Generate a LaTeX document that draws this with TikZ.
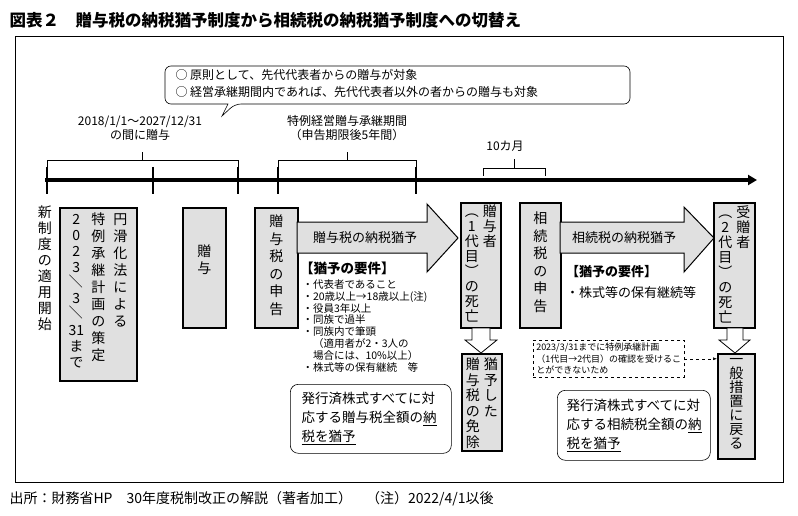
\documentclass[tikz,border=0pt]{standalone}
\usepackage{fontspec}
\setmainfont{Noto Sans CJK JP}
\usetikzlibrary{shapes.arrows, arrows.meta, positioning}
\definecolor{boxgray}{gray}{0.88}

\ExplSyntaxOn
\tl_new:N \l_tate_tl
\NewDocumentCommand\tate{O{17pt}m}{
  \tl_clear:N \l_tate_tl
  \tl_map_inline:nn {#2} { \tl_put_right:Nn \l_tate_tl {\hbox to 15pt{\hss##1\hss}} }
  \vtop{\baselineskip=#1\lineskiplimit=-\maxdimen\lineskip=0pt\l_tate_tl}
}
\ExplSyntaxOff
\newcommand{\tatecols}[1]{\hbox{#1}}
\newcommand{\tsep}{\hspace{3pt}}
\newcommand{\tslash}{\rotatebox{90}{／}}

\tikzset{
  grbox/.style={draw, line width=1.6pt, fill=boxgray, inner sep=0pt, anchor=north west},
  tatefont/.style={font=\fontsize{14}{17}\selectfont, inner sep=0pt, anchor=north},
  txtlbl/.style={font=\fontsize{12}{14}\selectfont, align=center},
  reqtxt/.style={font=\fontsize{10.5}{11.8}\selectfont, align=left, anchor=north west, inner sep=0pt},
  roundbox/.style={draw, rounded corners=8pt, anchor=north west, inner sep=0pt, line width=0.6pt},
  bigarrow/.style={draw, line width=1pt, fill=boxgray},
  hollowdown/.style={draw, line width=0.8pt, fill=white},
  brace/.style={line width=0.6pt},
}

\begin{document}
\begin{tikzpicture}[x=1pt, y=-1pt, font=\fontsize{13}{16}\selectfont]
\useasboundingbox (0,0) rectangle (798,516);
% title and frame
\node (title) [anchor=west, font=\fontsize{16.5}{18}\selectfont\bfseries] at (6,20) {図表２　贈与税の納税猶予制度から相続税の納税猶予制度への切替え};
\draw[line width=0.6pt] (15,36) rectangle (783,482);
\node (source) [anchor=west, font=\fontsize{14}{16}\selectfont] at (6,499) {出所：財務省HP　30年度税制改正の解説（著者加工）　（注）2022/4/1以後};
% callout
\draw[line width=0.6pt, rounded corners=6pt] (165,66) -- (630,66) -- (630,104) -- (235,104) [sharp corners]-- (222,116) -- (228,104) [rounded corners=6pt]-- (165,104) -- cycle;
\node (rule) [anchor=north west, align=left, font=\fontsize{12}{17}\selectfont] at (172,66) {○ 原則として、先代代表者からの贈与が対象\\○ 経営承継期間内であれば、先代代表者以外の者からの贈与も対象};
% periods
\node (period1) [txtlbl] at (140,128) {2018/1/1～2027/12/31\\の間に贈与};
\node (period2) [txtlbl] at (347,128) {特例経営贈与承継期間\\（申告期限後5年間）};
\node (month) [txtlbl] at (505,146) {10カ月};
\draw[brace] (47,168) -- (47,160) -- (238,160) -- (238,168) (142,160) -- (142,152);
\draw[brace] (278,168) -- (278,160) -- (416,160) -- (416,168) (347,160) -- (347,152);
\draw[brace] (483,176) -- (483,168) -- (545,168) -- (545,176) (514,168) -- (514,159);
% timeline
\draw[line width=3.5pt, -{Triangle[length=9pt,width=10pt]}] (45,180) -- (757,180);
\foreach \tx in {47,153,238,278,416}
  \draw[line width=2pt] (\tx,167) -- (\tx,194);
% left column
\node (start) [tatefont] at (45,206) {\tate[16pt]{新制度の適用開始}};
\node (plan) [grbox, minimum width=77pt, minimum height=173pt] at (59,207) {};
\node [tatefont] at ([yshift=-6pt]plan.north) {\tatecols{\tate[15.8pt]{2023{\tslash}3{\tslash}{31}まで}\hspace{7pt}\tate{特例承継計画の策定}\hspace{7pt}\tate{円滑化法による}}};
\node (gift) [grbox, minimum width=43pt, minimum height=120pt] at (182,207) {};
\node [tatefont, anchor=center] at ([yshift=8pt]gift.center) {\tate{贈与}};
\node (giftrep) [grbox, minimum width=43pt, minimum height=120pt] at (254,207) {};
\node [tatefont] at ([yshift=-8pt]giftrep.north) {\tate[17.5pt]{贈与税の申告}};
% first arrow
\draw[bigarrow] (297,222) -- (427,222) -- (427,204) -- (458,238) -- (427,272) -- (427,253) -- (297,253) -- cycle;
\node (defer1) at (365,238) {贈与税の納税猶予};
\node (req1) [reqtxt] at (300,262) {{\fontsize{13.5}{15}\selectfont\bfseries 【猶予の要件】}\\[3pt]
\ ・代表者であること\\\ ・20歳以上→18歳以上(注)\\\ ・役員3年以上\\\ ・同族で過半\\\ ・同族内で筆頭\\\ \quad（適用者が2・3人の\\\ \quad 場合には、10\%以上）\\\ ・株式等の保有継続　等};
\node (full1) [roundbox, minimum width=161pt, minimum height=69pt] at (290,384) {};
\node [anchor=west, align=left, font=\fontsize{13.5}{19}\selectfont] at ([xshift=8pt]full1.west) {発行済株式すべてに対\\応する贈与税全額の\underline{納}\\\underline{税を猶予}};
% donor death
\node (death1) [grbox, minimum width=40pt, minimum height=125pt] at (460,202) {};
\node [tatefont] at ([yshift=-3pt]death1.north) {\tatecols{\tate[15pt]{︵1代目︶の死亡}\tsep\tate[15pt]{贈与者}}};
\draw[hollowdown] (472,328) -- (490,328) -- (490,340) -- (497,340) -- (481,353) -- (465,340) -- (472,340) -- cycle;
\node (exempt) [grbox, minimum width=40pt, minimum height=97pt] at (461,353) {};
\node [tatefont] at ([yshift=-5pt]exempt.north) {\tatecols{\tate[15.5pt]{贈与税の免除}\tsep\tate[15.5pt]{猶予した}}};
% inheritance
\node (inhrep) [grbox, minimum width=41pt, minimum height=125pt] at (519,202) {};
\node [tatefont] at ([yshift=-10pt]inhrep.north) {\tate[17.5pt]{相続税の申告}};
\draw[bigarrow] (560,222) -- (684,222) -- (684,207) -- (714,238) -- (684,272) -- (684,253) -- (560,253) -- cycle;
\node (defer2) at (624,238) {相続税の納税猶予};
\node (req2) [reqtxt, font=\fontsize{13}{21}\selectfont] at (566,265) {{\bfseries 【猶予の要件】}\\ ・株式等の保有継続等};
\node (death2) [grbox, minimum width=41pt, minimum height=125pt] at (713,202) {};
\node [tatefont] at ([yshift=-3pt]death2.north) {\tatecols{\tate[15pt]{︵2代目︶の死亡}\tsep\tate[15pt]{受贈者}}};
\draw[hollowdown] (727,328) -- (743,328) -- (743,340) -- (750,340) -- (735,353) -- (719,340) -- (727,340) -- cycle;
\node (general) [grbox, minimum width=37pt, minimum height=105pt] at (717,353) {};
\node [tatefont] at ([yshift=-5pt]general.north) {\tate[14pt]{一般措置に戻る}};
% note and final box
\node (note) [draw, dashed, line width=0.5pt, anchor=north west, align=left, inner sep=3pt, font=\fontsize{9}{11.5}\selectfont] at (533,340) {2023/3/31までに特例承継計画\\（1代目→2代目）の確認を受けるこ\\とができないため};
\draw[dashed, -{Latex[length=4pt]}, line width=0.5pt] (note.east) -- (note.east -| general.west);
\node (full2) [roundbox, minimum width=153pt, minimum height=70pt] at (557,390) {};
\node [anchor=west, align=left, font=\fontsize{13.5}{19}\selectfont] at ([xshift=6pt]full2.west) {発行済株式すべてに対\\応する相続税全額の\underline{納}\\\underline{税を猶予}};
\end{tikzpicture}
\end{document}
